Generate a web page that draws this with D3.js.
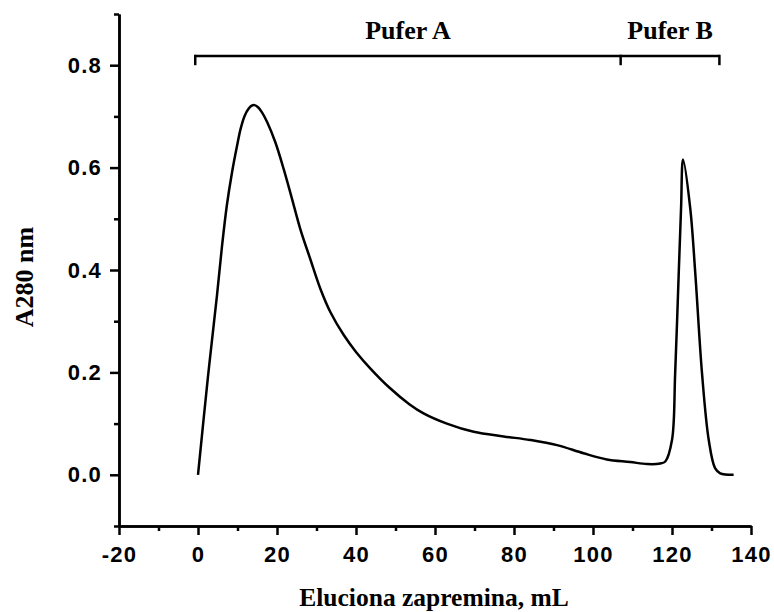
<!DOCTYPE html>
<meta charset="utf-8">
<style>
body {
  margin: 0;
  background: #fff;
}
.axis text {
  font-family: "Liberation Sans", Arial, sans-serif;
  font-weight: bold;
  font-size: 22px;
  letter-spacing: 1.2px;
  fill: #000;
}
.axis path, .axis line {
  stroke: #000;
  stroke-width: 2.5px;
}
.title {
  font-family: "Liberation Serif", "Times New Roman", serif;
  font-weight: bold;
  font-size: 26px;
  fill: #000;
}
</style>
<body>
<script src="https://d3js.org/d3.v7.min.js"></script>
<script>
// elution volume (mL) and absorbance at 280 nm
var volume = [0, 2.5, 4.8, 6.1, 7.3, 8.6, 9.9, 10.8, 11.8, 12.8, 13.6, 14.3, 15.2,
  16.2, 17.5, 19.6, 21.7, 23.8, 25.9, 28.4, 31, 33.5, 36.9, 40, 43.6, 48.5, 53.5,
  57.1, 63, 69.8, 77.4, 84.1, 90.9, 97.6, 103.5, 109.4, 113.7, 117, 118.3, 120,
  120.8, 121.7, 122.3, 122.8, 124.6, 125.9, 127.6, 129.3, 130.9, 132.2, 135.6];
var absorbance = [0, 0.19, 0.35, 0.448, 0.526, 0.59, 0.643, 0.676, 0.701, 0.715,
  0.721, 0.722, 0.718, 0.708, 0.689, 0.649, 0.597, 0.539, 0.48, 0.422, 0.363,
  0.318, 0.273, 0.24, 0.208, 0.17, 0.138, 0.12, 0.10, 0.084, 0.075, 0.068, 0.058,
  0.042, 0.030, 0.025, 0.021, 0.022, 0.026, 0.068, 0.198, 0.393, 0.522, 0.616,
  0.522, 0.393, 0.198, 0.068, 0.013, 0.003, 0];

var xTicks = [-20, 0, 20, 40, 60, 80, 100, 120, 140];
var xMinor = [-10, 10, 30, 50, 70, 90, 110, 130];
var yTicks = [0, 0.2, 0.4, 0.6, 0.8];
var yMinor = [-0.1, 0.1, 0.3, 0.5, 0.7, 0.9];

// buffer bracket: edges in mL, names between them
var bufferEdges = [-0.7, 107, 132];
var bufferNames = ["Pufer A", "Pufer B"];

var width = 774,
    height = 612;

var x = d3.scaleLinear().domain([-20, 140]).range([119, 751]);
var y = d3.scaleLinear().domain([-0.1, 0.9]).range([526, 14]);

var svg = d3.select("body").append("svg")
    .attr("width", width)
    .attr("height", height);

// minor ticks first
svg.append("g")
    .attr("class", "axis")
    .attr("transform", "translate(" + x.range()[0] + ",0)")
    .call(d3.axisLeft(y).tickValues(yMinor).tickSize(5).tickSizeOuter(0).tickFormat(""));

svg.append("g")
    .attr("class", "axis")
    .attr("transform", "translate(0," + y.range()[0] + ")")
    .call(d3.axisBottom(x).tickValues(xMinor).tickSize(5).tickSizeOuter(0).tickFormat(""));

svg.append("g")
    .attr("class", "axis")
    .attr("transform", "translate(" + x.range()[0] + ",0)")
    .call(d3.axisLeft(y).tickValues(yTicks).tickSize(9).tickSizeOuter(0)
      .tickPadding(8).tickFormat(function(d) { return d.toFixed(1); }));

svg.append("g")
    .attr("class", "axis")
    .attr("transform", "translate(0," + y.range()[0] + ")")
    .call(d3.axisBottom(x).tickValues(xTicks).tickSize(9).tickSizeOuter(0)
      .tickPadding(11).tickFormat(function(d) { return String(d); }));

// the trace
var line = d3.line()
    .x(function(d, i) { return x(volume[i]); })
    .y(function(d, i) { return y(absorbance[i]); })
    .curve(d3.curveCatmullRom.alpha(0.5));

svg.append("path")
    .datum(volume)
    .attr("d", line)
    .attr("fill", "none")
    .attr("stroke", "#000")
    .attr("stroke-width", 2.5)
    .attr("stroke-linejoin", "round");

// buffer bracket
var bracketY = y(0.818),
    bracketLow = y(0.8);

svg.append("line")
    .attr("x1", x(bufferEdges[0]))
    .attr("x2", x(bufferEdges[bufferEdges.length - 1]))
    .attr("y1", bracketY)
    .attr("y2", bracketY)
    .attr("stroke", "#000")
    .attr("stroke-width", 2.5);

svg.selectAll(".edge")
    .data(bufferEdges)
  .enter().append("line")
    .attr("class", "edge")
    .attr("x1", function(d) { return x(d); })
    .attr("x2", function(d) { return x(d); })
    .attr("y1", bracketY - 1.25)
    .attr("y2", bracketLow)
    .attr("stroke", "#000")
    .attr("stroke-width", 2.5);

svg.selectAll(".buffer")
    .data(bufferNames)
  .enter().append("text")
    .attr("class", "title")
    .attr("text-anchor", "middle")
    .attr("x", function(d, i) { return x((bufferEdges[i] + bufferEdges[i + 1]) / 2); })
    .attr("y", 39)
    .text(function(d) { return d; });

// axis titles
svg.append("text")
    .attr("class", "title")
    .attr("text-anchor", "middle")
    .style("font-size", "25.5px")
    .attr("x", 434)
    .attr("y", 606)
    .text("Eluciona zapremina, mL");

svg.append("text")
    .attr("class", "title")
    .attr("text-anchor", "middle")
    .attr("transform", "translate(33,277) rotate(-90)")
    .text("A280 nm");
</script>
</body>
